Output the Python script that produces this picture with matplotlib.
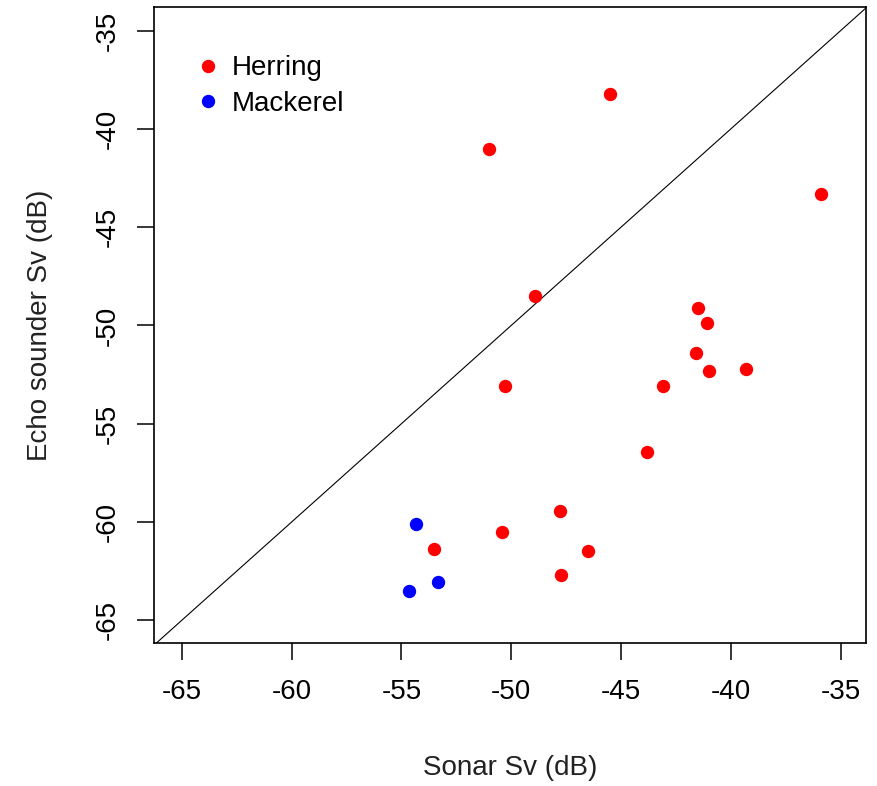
import matplotlib
matplotlib.use("Agg")
import matplotlib.pyplot as plt

# values
herring_x = [-45.5, -51.0, -35.9, -48.9, -41.5, -41.1, -41.6, -41.0, -39.3,
             -43.1, -50.3, -43.8, -47.8, -50.4, -53.5, -46.5, -47.75]
herring_y = [-38.2, -41.0, -43.3, -48.5, -49.1, -49.9, -51.4, -52.3, -52.2,
             -53.1, -53.1, -56.45, -59.45, -60.5, -61.4, -61.5, -62.7]
mackerel_x = [-54.35, -53.35, -54.65]
mackerel_y = [-60.1, -63.05, -63.5]

ticks = [-65, -60, -55, -50, -45, -40, -35]
xlims = (-66.27, -33.82)
ylims = (-66.16, -33.78)

def main():
	plt.rcParams['font.family'] = ['Liberation Sans', 'DejaVu Sans']
	plt.rcParams['axes.unicode_minus'] = False
	fig = plt.figure(figsize=(8.78, 7.86), dpi=100)
	ax = fig.add_axes([154 / 878, 1 - 643 / 786, 712.5 / 878, 636.3 / 786])

	# 1:1 line
	ax.plot([-70, -30], [-70, -30], color='black', lw=0.8)
	ax.plot(herring_x, herring_y, 'o', color='red', markersize=8.6, label='Herring', linestyle='none')
	ax.plot(mackerel_x, mackerel_y, 'o', color='blue', markersize=8.6, label='Mackerel', linestyle='none')

	ax.set_xlim(xlims)
	ax.set_ylim(ylims)
	ax.set_xticks(ticks)
	ax.set_yticks(ticks)
	ax.tick_params(length=12, width=1.1, labelsize=20, pad=12)
	ax.tick_params(axis='x', pad=14)
	plt.setp(ax.get_yticklabels(), rotation=90, va='center')
	for s in ax.spines.values():
		s.set_linewidth(1.2)

	ax.set_xlabel('Sonar Sv (dB)', fontsize=20, color='#222222')
	ax.set_ylabel('Echo sounder Sv (dB)', fontsize=20, color='#222222')
	ax.xaxis.set_label_coords(0.5, (642.7 - 768) / 636)
	ax.xaxis.label.set_va('center')
	ax.yaxis.set_label_coords((40 - 154) / 712, 0.5)
	ax.yaxis.label.set_va('center')

	ax.legend(loc='upper left', bbox_to_anchor=(0.031, 0.941), frameon=False,
		fontsize=20, handletextpad=0.1, labelspacing=0.35, borderaxespad=0,
		handlelength=1.5, markerscale=1.0)

	fig.savefig('out.png', dpi=100)

if __name__ == "__main__":
	main()
